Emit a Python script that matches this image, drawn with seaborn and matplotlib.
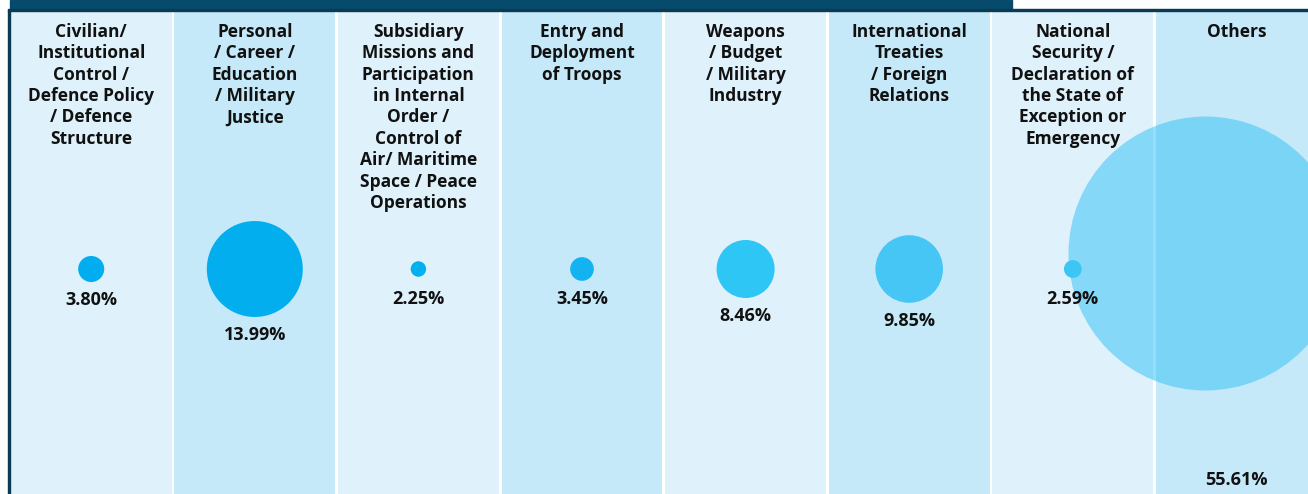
import numpy as np
import pandas as pd
import matplotlib
matplotlib.use("Agg")
import matplotlib.pyplot as plt
from matplotlib.patches import Rectangle
import seaborn as sns

# ---- data ----
categories = [
    "Civilian/\nInstitutional\nControl /\nDefence Policy\n/ Defence\nStructure",
    "Personal\n/ Career /\nEducation\n/ Military\nJustice",
    "Subsidiary\nMissions and\nParticipation\nin Internal\nOrder /\nControl of\nAir/ Maritime\nSpace / Peace\nOperations",
    "Entry and\nDeployment\nof Troops",
    "Weapons\n/ Budget\n/ Military\nIndustry",
    "International\nTreaties\n/ Foreign\nRelations",
    "National\nSecurity /\nDeclaration of\nthe State of\nException or\nEmergency",
    "Others",
]
values = [3.80, 13.99, 2.25, 3.45, 8.46, 9.85, 2.59, 55.61]
value_labels = ["3.80%", "13.99%", "2.25%", "3.45%", "8.46%", "9.85%", "2.59%", "55.61%"]

# ---- style ----
W, H, DPI = 1308, 494, 100
bg_colors = ["#dff2fc", "#c6e9f9"]
circle_colors = ["#00aeef", "#03aeef", "#02b0f0", "#12b3f0", "#2ec6f5", "#45c6f4", "#3cc6f4", "#3cc3f3"]
PX_PER_UNIT = 3.43        # circle radius (px) per percentage point
MAX_RADIUS = 137          # radius cap for the off-scale "Others" bubble
CIRCLE_Y = 269
LABEL_GAP = 18
MIN_LABEL_R = 12
COL_W = 163.6
LEFT = 9.4
TOP = 10.5

sns.set_theme(style="white")
plt.rcParams["font.family"] = ["Open Sans", "DejaVu Sans"]

fig = plt.figure(figsize=(W / DPI, H / DPI), dpi=DPI)
fig.patch.set_facecolor("white")
n = len(categories)
ax = fig.add_axes([LEFT / W, 0, n * COL_W / W, (H - TOP) / H])

df = pd.DataFrame({"pos": np.arange(n), "full": [H] * n,
                   "shade": [i % 2 for i in range(n)]})
sns.barplot(data=df, x="pos", y="full", hue="shade", palette=bg_colors,
            width=0.982, dodge=False, legend=False, ax=ax, zorder=0,
            linewidth=0, saturation=1)

radii = np.minimum(np.array(values) * PX_PER_UNIT, MAX_RADIUS)
sizes = (2 * radii * 72 / DPI) ** 2
xs = np.arange(n).astype(float)
ys = np.full(n, float(CIRCLE_Y))
# the capped "Others" bubble sits a little left/up of the column centre
big = radii >= MAX_RADIUS
xs_big = xs.copy(); ys_big = ys.copy()
xs_big[big] -= 0.19
ys_big[big] -= 16

d_big = pd.DataFrame({"x": xs_big[big], "y": ys_big[big]})
sns.scatterplot(data=d_big, x="x", y="y", s=sizes[big], color=circle_colors[-1],
                alpha=0.55, linewidth=0, ax=ax, zorder=3, legend=False)
d_small = pd.DataFrame({"x": xs[~big], "y": ys[~big], "c": np.arange(n)[~big]})
sns.scatterplot(data=d_small, x="x", y="y", s=sizes[~big], hue="c",
                palette=[circle_colors[i] for i in np.arange(n)[~big]],
                linewidth=0, ax=ax, zorder=4, legend=False)

ax.set_xlim(-0.5, n - 0.5)
ax.set_ylim(H, TOP)
ax.axis("off")

# category headings
for i, lab in enumerate(categories):
    ax.text(i, 23, lab, ha="center", va="top", fontsize=12.5, fontweight="bold",
            color="#111111", linespacing=1.24, zorder=5)

# value labels
for i, lab in enumerate(value_labels):
    if big[i]:
        y = 480
    else:
        y = CIRCLE_Y + max(radii[i], MIN_LABEL_R) + LABEL_GAP
    ax.text(i, y, lab, ha="center", va="center", fontsize=13, fontweight="bold",
            color="#111111", zorder=5)

# frame: header bar, top rule, left rule
fig.patches.append(Rectangle((10 / W, 1 - 10 / H), 1002 / W, 10 / H,
                             transform=fig.transFigure, color="#074b6c", zorder=10))
fig.patches.append(Rectangle((8 / W, 1 - 11 / H), (W - 8) / W, 1.6 / H,
                             transform=fig.transFigure, color="#0a3a54", zorder=11))
fig.patches.append(Rectangle((7.5 / W, 0), 2.5 / W, 1 - 10 / H,
                             transform=fig.transFigure, color="#0a3a54", zorder=11))

fig.savefig("out.png", dpi=DPI)
